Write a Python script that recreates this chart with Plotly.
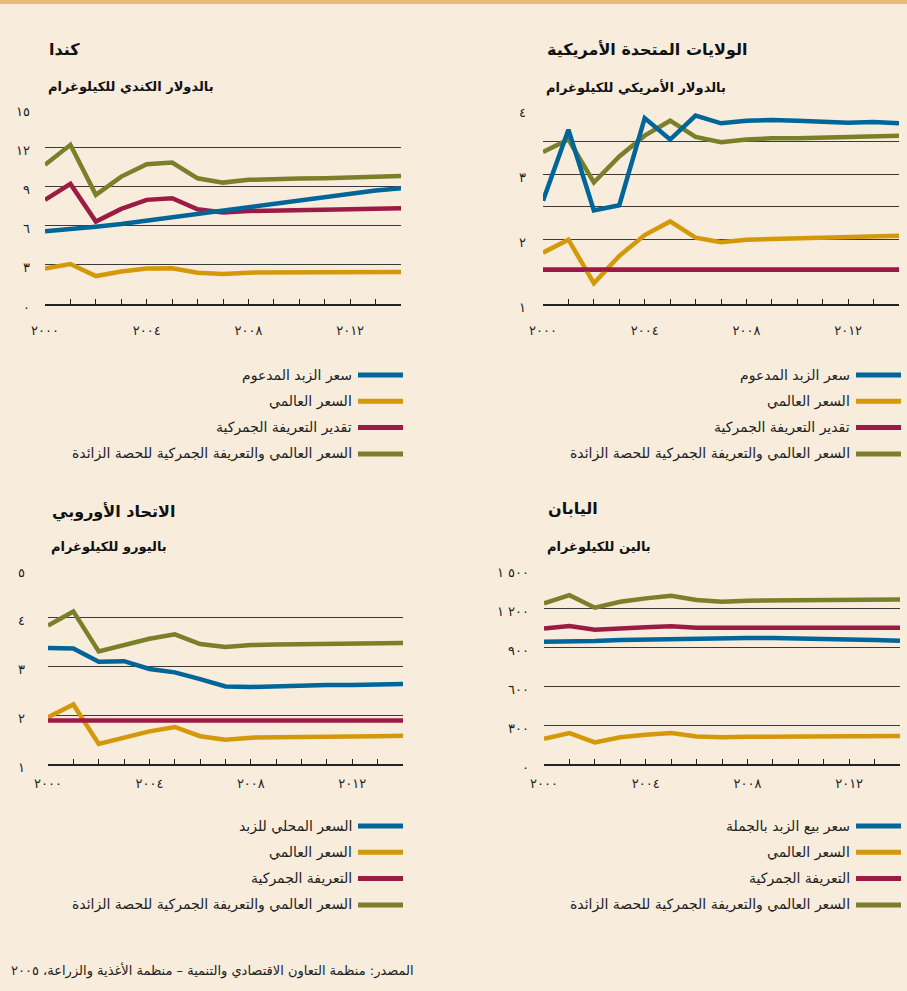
import plotly.graph_objects as go

# ---------------- data ----------------
YEARS = list(range(2000, 2015))
YEAR_TICK_TEXT = ["٢٠٠٠", "", "", "", "٢٠٠٤", "", "", "", "٢٠٠٨", "", "", "", "٢٠١٢", "", ""]

# Canada (CAD / kg)
CANADA_SUPPORTED = [5.57, 5.72, 5.92, 6.13, 6.38, 6.69, 6.94, 7.15, 7.40, 7.66, 7.91, 8.17, 8.42, 8.68, 8.85]
CANADA_WORLD = [2.71, 3.06, 2.14, 2.48, 2.71, 2.73, 2.40, 2.30, 2.40, 2.40, 2.43, 2.43, 2.43, 2.43, 2.45]
CANADA_TARIFF = [7.97, 9.19, 6.31, 7.28, 7.97, 8.09, 7.25, 7.00, 7.12, 7.17, 7.20, 7.22, 7.25, 7.28, 7.33]
CANADA_OVERQUOTA = [10.65, 12.18, 8.35, 9.75, 10.70, 10.82, 9.62, 9.29, 9.50, 9.57, 9.60, 9.62, 9.68, 9.73, 9.80]

# USA (USD / kg)
USA_SUPPORTED = [2.59, 3.68, 2.44, 2.52, 3.86, 3.53, 3.90, 3.78, 3.82, 3.83, 3.82, 3.80, 3.79, 3.80, 3.78]
USA_WORLD = [1.79, 1.99, 1.32, 1.74, 2.06, 2.27, 2.02, 1.95, 1.99, 2.00, 2.01, 2.02, 2.03, 2.04, 2.05]
USA_TARIFF = [1.53] * 15
USA_OVERQUOTA = [3.34, 3.53, 2.87, 3.27, 3.59, 3.82, 3.57, 3.49, 3.53, 3.55, 3.55, 3.56, 3.57, 3.58, 3.59]

# EU (EUR / kg)
EU_DOMESTIC = [3.38, 3.37, 3.10, 3.11, 2.95, 2.88, 2.74, 2.59, 2.58, 2.60, 2.61, 2.62, 2.62, 2.63, 2.64]
EU_WORLD = [1.96, 2.22, 1.41, 1.55, 1.67, 1.76, 1.57, 1.50, 1.54, 1.55, 1.55, 1.55, 1.57, 1.57, 1.58]
EU_TARIFF = [1.89] * 15
EU_OVERQUOTA = [3.84, 4.13, 3.31, 3.44, 3.57, 3.66, 3.46, 3.40, 3.44, 3.45, 3.46, 3.46, 3.46, 3.47, 3.48]

# Japan (JPY / kg)
JAPAN_WHOLESALE = [941, 941, 946, 954, 957, 962, 969, 974, 969, 969, 967, 962, 959, 954, 949]
JAPAN_WORLD = [194, 238, 166, 205, 225, 238, 212, 205, 210, 210, 212, 213, 214, 214, 215]
JAPAN_TARIFF = [1043, 1061, 1033, 1046, 1051, 1059, 1049, 1049, 1049, 1049, 1049, 1049, 1049, 1049, 1049]
JAPAN_OVERQUOTA = [1235, 1299, 1202, 1248, 1274, 1294, 1261, 1248, 1256, 1258, 1261, 1261, 1263, 1263, 1266]

# axis ticks
CANADA_YVALS = [0, 3, 6, 9, 12, 15]
CANADA_YTEXT = ["٠", "٣", "٦", "٩", "١٢", "١٥"]
USA_YVALS = [1, 1.5, 2, 2.5, 3, 3.5, 4]
USA_YTEXT = ["١", "", "٢", "", "٣", "", "٤"]
EU_YVALS = [1, 2, 3, 4, 5]
EU_YTEXT = ["١", "٢", "٣", "٤", "٥"]
JAPAN_YVALS = [0, 300, 600, 900, 1200, 1500]
JAPAN_YTEXT = ["٠", "٣٠٠", "٦٠٠", "٩٠٠", "١\u200e ٢٠٠", "١\u200e ٥٠٠"]

# texts
CANADA_TITLE = "كندا"
CANADA_UNIT = "بالدولار الكندي للكيلوغرام"
USA_TITLE = "الولايات المتحدة الأمريكية"
USA_UNIT = "بالدولار الأمريكي للكيلوغرام"
EU_TITLE = "الاتحاد الأوروبي"
EU_UNIT = "باليورو للكيلوغرام"
JAPAN_TITLE = "اليابان"
JAPAN_UNIT = "بالين للكيلوغرام"

TOP_LEGEND = ["سعر الزبد المدعوم", "السعر العالمي", "تقدير التعريفة الجمركية",
              "السعر العالمي والتعريفة الجمركية للحصة الزائدة"]
EU_LEGEND = ["السعر المحلي للزبد", "السعر العالمي", "التعريفة الجمركية",
             "السعر العالمي والتعريفة الجمركية للحصة الزائدة"]
JAPAN_LEGEND = ["سعر بيع الزبد بالجملة", "السعر العالمي", "التعريفة الجمركية",
                "السعر العالمي والتعريفة الجمركية للحصة الزائدة"]
SOURCE = "المصدر: منظمة التعاون الاقتصادي والتنمية – منظمة الأغذية والزراعة، ٢٠٠٥"

# ---------------- style ----------------
W, H = 907, 991
BG = "#F8ECDC"
BAND = "#E5BE76"
BLUE = "#00669A"
YELLOW = "#D4990A"
RED = "#9B1B45"
GREEN = "#7A7F2A"
SERIES_COLORS = [BLUE, YELLOW, RED, GREEN]
GRID = "#3A3A3A"
TXT = "#222222"
FONT = "DejaVu Sans"


def px(x):
    return x / W


def py(y):
    return 1 - y / H


panels = [
    dict(x0=45, x1=401, ytop=108, ybot=304, yr=[0, 15], yv=CANADA_YVALS, yt=CANADA_YTEXT,
         title=CANADA_TITLE, unit=CANADA_UNIT, ty=50, uy=87,
         series=[CANADA_SUPPORTED, CANADA_WORLD, CANADA_TARIFF, CANADA_OVERQUOTA],
         legend=TOP_LEGEND, ly=375, xstand=14, ystand=14),
    dict(x0=543, x1=899, ytop=109, ybot=304, yr=[1, 4], yv=USA_YVALS, yt=USA_YTEXT,
         title=USA_TITLE, unit=USA_UNIT, ty=50, uy=87,
         series=[USA_SUPPORTED, USA_WORLD, USA_TARIFF, USA_OVERQUOTA],
         legend=TOP_LEGEND, ly=375, xstand=14, ystand=16),
    dict(x0=48, x1=403, ytop=569, ybot=764, yr=[1, 5], yv=EU_YVALS, yt=EU_YTEXT,
         title=EU_TITLE, unit=EU_UNIT, ty=512, uy=547,
         series=[EU_DOMESTIC, EU_WORLD, EU_TARIFF, EU_OVERQUOTA],
         legend=EU_LEGEND, ly=826, xstand=7, ystand=22),
    dict(x0=544, x1=900, ytop=569, ybot=764, yr=[0, 1500], yv=JAPAN_YVALS, yt=JAPAN_YTEXT,
         title=JAPAN_TITLE, unit=JAPAN_UNIT, ty=508, uy=547,
         series=[JAPAN_WHOLESALE, JAPAN_WORLD, JAPAN_TARIFF, JAPAN_OVERQUOTA],
         legend=JAPAN_LEGEND, ly=826, xstand=7, ystand=14),
]

DRAW_ORDER = [1, 2, 3, 0]  # world, tariff, over-quota, then local/supported on top

fig = go.Figure()
layout = {}
annotations = []
shapes = [dict(type="rect", xref="paper", yref="paper", x0=0, x1=1, y0=py(4), y1=1.0,
               fillcolor=BAND, line=dict(width=0), layer="above")]

for i, p in enumerate(panels):
    n = "" if i == 0 else str(i + 1)
    xa, ya = "x" + n, "y" + n
    for k in DRAW_ORDER:
        fig.add_trace(go.Scatter(
            x=YEARS, y=p["series"][k], mode="lines", xaxis=xa, yaxis=ya,
            line=dict(color=SERIES_COLORS[k], width=4.5), showlegend=False,
            hoverinfo="skip", cliponaxis=False))
    layout["xaxis" + n] = dict(
        domain=[px(p["x0"]), px(p["x1"])], anchor=ya, range=[2000, 2014],
        tickvals=YEARS, ticktext=YEAR_TICK_TEXT, ticks="inside", ticklen=5,
        tickwidth=1, tickcolor=TXT, showline=True, linecolor=TXT, linewidth=1.5,
        showgrid=False, zeroline=False, ticklabelstandoff=p["xstand"], automargin=False,
        tickfont=dict(family=FONT, size=13, color=TXT), fixedrange=True)
    layout["yaxis" + n] = dict(
        domain=[py(p["ybot"]), py(p["ytop"])], anchor=xa, range=p["yr"],
        tickvals=p["yv"], ticktext=p["yt"], ticks="", showline=False,
        showgrid=True, gridcolor=GRID, gridwidth=1, zeroline=False, automargin=False,
        ticklabelstandoff=p["ystand"], ticklabelshift=3,
        tickfont=dict(family=FONT, size=13, color=TXT), fixedrange=True)
    # titles
    annotations.append(dict(text=p["title"], xref="paper", yref="paper",
                            x=px(p["x0"] + 2), y=py(p["ty"]), xanchor="left", yanchor="middle",
                            showarrow=False, font=dict(family=FONT, size=16, color="#111", weight=700)))
    annotations.append(dict(text=p["unit"], xref="paper", yref="paper",
                            x=px(p["x0"] + 1), y=py(p["uy"]), xanchor="left", yanchor="middle",
                            showarrow=False, font=dict(family=FONT, size=13, color="#111", weight=700)))
    # legend (RTL: swatch on the right)
    sw_x0 = 358 if p["x0"] < 300 else 856
    sw_x1 = sw_x0 + 45
    for j, name in enumerate(p["legend"]):
        yy = p["ly"] + 26.3 * j
        shapes.append(dict(type="line", xref="paper", yref="paper",
                           x0=px(sw_x0), x1=px(sw_x1), y0=py(yy), y1=py(yy),
                           line=dict(color=SERIES_COLORS[j], width=5)))
        annotations.append(dict(text=name, xref="paper", yref="paper",
                                x=px(sw_x0 - 4), y=py(yy), xanchor="right", yanchor="middle",
                                showarrow=False, font=dict(family=FONT, size=14, color=TXT)))

annotations.append(dict(text=SOURCE, xref="paper", yref="paper", x=px(416), y=py(970),
                        xanchor="right", yanchor="middle", showarrow=False,
                        font=dict(family=FONT, size=13, color=TXT)))

fig.update_layout(
    width=W, height=H, margin=dict(l=0, r=0, t=0, b=0, pad=0, autoexpand=False),
    paper_bgcolor=BG, plot_bgcolor=BG, showlegend=False,
    annotations=annotations, shapes=shapes, **layout)

fig.write_html("out.html", config={"displayModeBar": False},
               post_script="document.body.style.margin='0';document.body.style.overflow='hidden';")
